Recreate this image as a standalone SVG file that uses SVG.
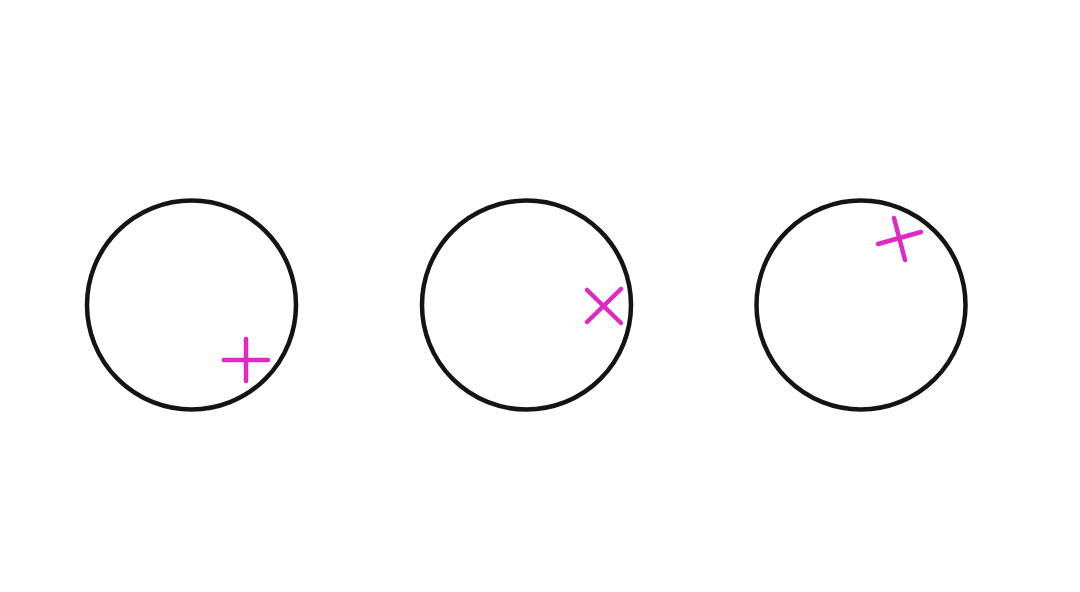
<svg xmlns="http://www.w3.org/2000/svg" width="1080" height="592" viewBox="0 0 1080 592">
<style>
.ring{fill:none;stroke:#141414;stroke-width:4.5}
.mark{stroke:#e028c4;stroke-width:4.5;stroke-linecap:round}
</style>
<rect width="1080" height="592" fill="#ffffff"/>
<g id="circle1">
<circle class="ring" cx="191.5" cy="305" r="104.5"/>
<line class="mark" x1="224" y1="360" x2="268" y2="360"/>
<line class="mark" x1="246" y1="339" x2="246" y2="381"/>
</g>
<g id="circle2">
<circle class="ring" cx="526.5" cy="305" r="104.5"/>
<line class="mark" x1="587" y1="290" x2="621" y2="323"/>
<line class="mark" x1="621" y1="289" x2="587" y2="322"/>
</g>
<g id="circle3">
<circle class="ring" cx="861" cy="305" r="104.5"/>
<line class="mark" x1="878" y1="244" x2="921" y2="232"/>
<line class="mark" x1="894" y1="218" x2="905" y2="260"/>
</g>
<g id="connectors"></g>
</svg>
